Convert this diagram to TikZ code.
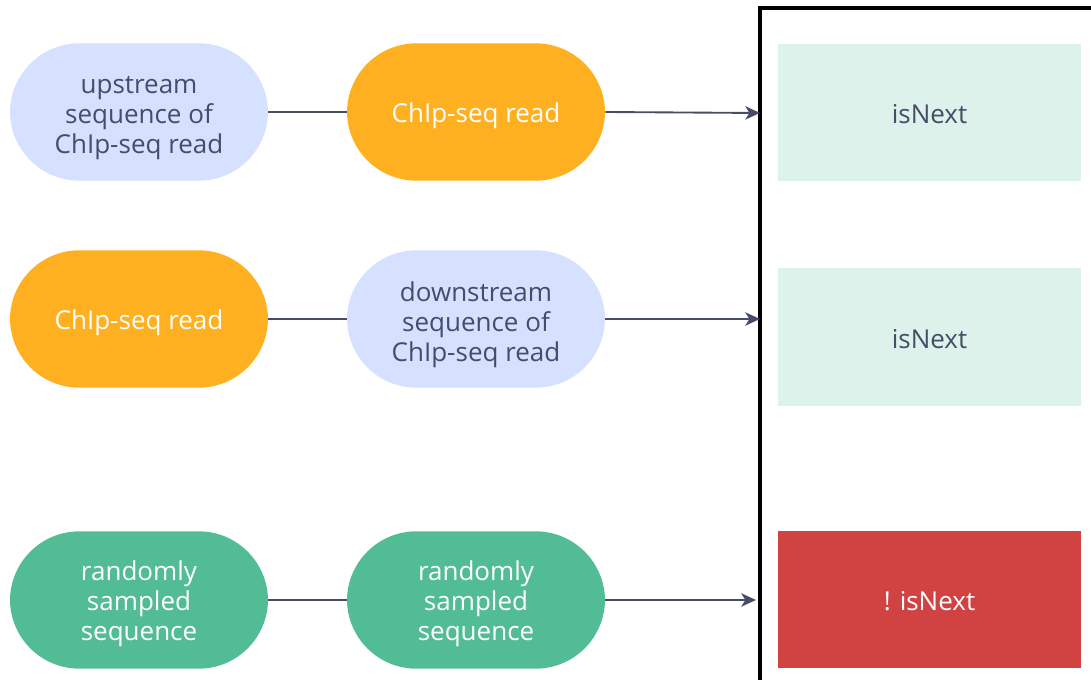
\documentclass[tikz,border=0pt]{standalone}
\usepackage{fontspec}
\setmainfont{Open Sans}
\usetikzlibrary{arrows.meta}
\definecolor{lblue}{HTML}{D6E0FF}
\definecolor{orng}{HTML}{FFB020}
\definecolor{grn}{HTML}{52BD94}
\definecolor{mint}{HTML}{DCF2EA}
\definecolor{redb}{HTML}{D14343}
\definecolor{txt}{HTML}{474D66}
\definecolor{lnc}{HTML}{474D66}
\begin{document}
\begin{tikzpicture}[x=0.75pt,y=-0.75pt,
  lbl/.style={font=\fontsize{19.5}{22.5}\selectfont,align=center,inner sep=0pt},
  pillshape/.style={draw=none,rounded corners=52pt,minimum width=193.5pt,minimum height=103pt,inner sep=0pt},
  outbox/.style={draw=none,minimum width=227pt,minimum height=103pt,inner sep=0pt},
  link/.style={draw=lnc,line width=1.4pt},
  arr/.style={link,-{Stealth[length=11pt,width=10pt,inset=3pt]}}]
\useasboundingbox (0,0) rectangle (1091,680);
\begin{scope}
\clip (0,0) rectangle (1091,680);
\draw[line width=2.4pt,black] (760,8) rectangle (1120,720);
\end{scope}
% row 1
\node[pillshape,fill=lblue] (u1) at (139,112) {};
\node[lbl,text=txt] (u1t) at (139,118) {upstream\\sequence of\\ChIp-seq read};
\node[pillshape,fill=orng] (r1) at (476,112) {};
\node[lbl,text=white] (r1t) at (476,116) {ChIp-seq read};
\node[outbox,fill=mint] (b1) at (929.5,112.5) {};
\node[lbl,text=txt] (b1t) at (929.5,114) {isNext};
\coordinate (e1) at (760,113);
% row 2
\node[pillshape,fill=orng] (r2) at (139,319) {};
\node[lbl,text=white] (r2t) at (139,323) {ChIp-seq read};
\node[pillshape,fill=lblue] (d2) at (476,319) {};
\node[lbl,text=txt] (d2t) at (476,325) {downstream\\sequence of\\ChIp-seq read};
\node[outbox,fill=mint] (b2) at (929.5,337) {};
\node[lbl,text=txt] (b2t) at (929.5,339) {isNext};
\coordinate (e2) at (760,319);
% row 3
\node[pillshape,fill=grn] (g1) at (139,600) {};
\node[lbl,text=white] (g1t) at (139,604) {randomly\\sampled\\sequence};
\node[pillshape,fill=grn] (g2) at (476,600) {};
\node[lbl,text=white] (g2t) at (476,604) {randomly\\sampled\\sequence};
\node[outbox,fill=redb] (b3) at (929.5,599.5) {};
\node[lbl,text=white] (b3t) at (929.5,601) {! isNext};
\coordinate (e3) at (756,600);
% connectors
\draw[link] (u1.east) -- (r1.west);
\draw[link] (r2.east) -- (d2.west);
\draw[link] (g1.east) -- (g2.west);
\draw[arr] (r1.east) -- (e1);
\draw[arr] (d2.east) -- (e2);
\draw[arr] (g2.east) -- (e3);
\end{tikzpicture}
\end{document}
